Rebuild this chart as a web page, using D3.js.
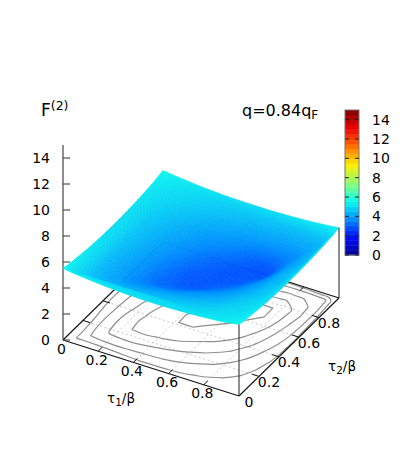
<!DOCTYPE html>
<html>
<head>
<meta charset="utf-8">
<script src="https://cdn.jsdelivr.net/npm/d3@7"></script>
<style>
  body { margin: 0; background: #fff; }
  text { font-family: "DejaVu Sans", sans-serif; fill: #000; }
</style>
</head>
<body>
<div id="chart"></div>
<script>
// tau grid the surface heights were read at (finer near the edges, where it is steep)
var tauNodes = [0, 0.05, 0.1, 0.17, 0.25, 0.33, 0.42, 0.5, 0.58, 0.67, 0.76, 0.85, 0.91, 0.955, 1]

// upper triangle of F(2): row i starts at column i, the rest is mirrored
var zRows = [
  [5.50, 5.41, 5.34, 5.25, 5.16, 5.10, 5.06, 5.05, 5.06, 5.10, 5.16, 5.25, 5.32, 5.41, 5.50],
  [4.99, 4.98, 4.97, 4.96, 4.95, 4.95, 4.96, 4.96, 4.97, 5.03, 5.12, 5.20, 5.28, 5.41],
  [4.60, 4.51, 4.46, 4.49, 4.53, 4.58, 4.64, 4.74, 4.87, 5.00, 5.08, 5.18, 5.34],
  [4.17, 4.11, 4.10, 4.19, 4.27, 4.37, 4.50, 4.65, 4.87, 4.97, 5.08, 5.25],
  [3.75, 3.71, 3.78, 3.89, 4.03, 4.20, 4.40, 4.66, 4.86, 4.98, 5.16],
  [3.30, 3.29, 3.45, 3.69, 3.91, 4.16, 4.48, 4.70, 4.86, 5.10],
  [3.00, 2.99, 3.20, 3.54, 3.89, 4.27, 4.56, 4.75, 5.06],
  [2.92, 2.96, 3.18, 3.65, 4.12, 4.45, 4.66, 5.05],
  [2.88, 2.96, 3.35, 3.97, 4.35, 4.60, 5.05],
  [2.90, 2.99, 3.82, 4.26, 4.54, 5.08],
  [3.00, 3.74, 4.17, 4.50, 5.13],
  [3.77, 4.21, 4.49, 5.20],
  [4.26, 4.55, 5.27],
  [4.61, 5.33],
  [5.40]
]

var contourLevels = [5, 4.6, 4.2, 3.75, 3]
var tauTicks = [0, 0.2, 0.4, 0.6, 0.8]
var zTicks = [0, 2, 4, 6, 8, 10, 12, 14]
var paletteStops = ["#000090", "#000fff", "#0090ff", "#0fffee", "#90ff70", "#ffee00", "#ff7000", "#ee0000", "#7f0000"]

var width = 403, height = 460
var n = tauNodes.length
var zAt = function (i, j) {
  i = Math.max(0, Math.min(n - 1, i))
  j = Math.max(0, Math.min(n - 1, j))
  return i <= j ? zRows[i][j - i] : zRows[j][i - j]
}

// oblique projection of the gnuplot view, one scale per screen component
var origin = [63, 340]
var t1x = d3.scaleLinear().domain([0, 1]).range([0, 176])
var t1y = d3.scaleLinear().domain([0, 1]).range([0, 56])
var t2x = d3.scaleLinear().domain([0, 1]).range([0, 100])
var t2y = d3.scaleLinear().domain([0, 1]).range([0, -98])
var zy = d3.scaleLinear().domain([0, 15]).range([0, -195])

var project = function (t1, t2, z) {
  return [origin[0] + t1x(t1) + t2x(t2), origin[1] + t1y(t1) + t2y(t2) + zy(z || 0)]
}

var color = d3.scaleLinear()
  .domain(paletteStops.map(function (d, i) { return 15 * i / (paletteStops.length - 1) }))
  .range(paletteStops)

var svg = d3.select("#chart").append("svg")
  .attr("width", width)
  .attr("height", height)
  .style("display", "block")

var line = d3.line()
var seg = function (a, b, stroke, w, dash) {
  svg.append("path")
    .attr("d", line([a, b]))
    .attr("fill", "none")
    .attr("stroke", stroke)
    .attr("stroke-width", w)
    .attr("stroke-dasharray", dash || null)
}

// base grid
tauTicks.slice(1).forEach(function (t) {
  seg(project(t, 0), project(t, 1), "#bbb", 0.8, "2,2.5")
  seg(project(0, t), project(1, t), "#bbb", 0.8, "2,2.5")
})

// contours on the base, negated so that each ring is the inside of a level
var flat = []
d3.range(n).forEach(function (j) {
  d3.range(n).forEach(function (i) { flat.push(-zAt(i, j)) })
})
var indexToTau = d3.scaleLinear().domain(d3.range(n)).range(tauNodes)
var contours = d3.contours().size([n, n]).smooth(true)
  .thresholds(contourLevels.map(function (d) { return -d }))(flat)

var ringLine = d3.line().curve(d3.curveCatmullRomClosed.alpha(0.5))
contours.forEach(function (c) {
  c.coordinates.forEach(function (poly) {
    poly.forEach(function (ring) {
      var pts = ring.slice(1).map(function (p) {
        return project(indexToTau(p[0] - 0.5), indexToTau(p[1] - 0.5))
      })
      svg.append("path")
        .attr("d", ringLine(pts))
        .attr("fill", "none")
        .attr("stroke", "#8f8f8f")
        .attr("stroke-width", 1.2)
    })
  })
})

// base border and inward ticks
seg(project(0, 0), project(1, 0), "#111", 1.1)
seg(project(1, 0), project(1, 1), "#111", 1.1)
seg(project(1, 1), project(0, 1), "#111", 1.1)
seg(project(0, 1), project(0, 0), "#111", 1.1)
tauTicks.slice(1).forEach(function (t) {
  seg(project(t, 0), project(t, 0.04), "#111", 1)
  seg(project(t, 1), project(t, 0.96), "#111", 1)
  seg(project(0, t), project(0.04, t), "#111", 1)
  seg(project(1, t), project(0.96, t), "#111", 1)
})

// z axis
seg(project(0, 0), project(0, 0, 15), "#333", 1.1)
zTicks.forEach(function (z) {
  var p = project(0, 0, z)
  seg(p, [p[0] + 7, p[1]], "#444", 1.1)
  svg.append("text")
    .attr("x", p[0] - 13)
    .attr("y", p[1] + 5)
    .attr("text-anchor", "end")
    .attr("font-size", 14)
    .text(z)
})

// surface: shaded mesh over the read grid, painted back to front
var sub = 6
var mesh = []
var cubic = function (a, b, c, d, t) {
  return b + 0.5 * t * (c - a + t * (2 * a - 5 * b + 4 * c - d + t * (3 * b - a - 3 * c + d)))
}
var shade = function (i, j, u, v) {
  var rows = [-1, 0, 1, 2].map(function (dj) {
    return cubic(zAt(i - 1, j + dj), zAt(i, j + dj), zAt(i + 1, j + dj), zAt(i + 2, j + dj), u)
  })
  return cubic(rows[0], rows[1], rows[2], rows[3], v)
}
var vertex = function (i, j, u, v) {
  var t1 = tauNodes[i] + u * (tauNodes[i + 1] - tauNodes[i])
  var t2 = tauNodes[j] + v * (tauNodes[j + 1] - tauNodes[j])
  return project(t1, t2, shade(i, j, u, v))
}
d3.range(n - 1).forEach(function (i) {
  d3.range(sub).forEach(function (si) {
    d3.range(n - 2, -1, -1).forEach(function (j) {
      d3.range(sub - 1, -1, -1).forEach(function (sj) {
        var u0 = si / sub, u1 = (si + 1) / sub, v0 = sj / sub, v1 = (sj + 1) / sub
        mesh.push({
          d: line([vertex(i, j, u0, v0), vertex(i, j, u1, v0), vertex(i, j, u1, v1), vertex(i, j, u0, v1)]) + "Z",
          z: shade(i, j, (u0 + u1) / 2, (v0 + v1) / 2)
        })
      })
    })
  })
})
svg.append("g").selectAll("path")
  .data(mesh)
  .join("path")
  .attr("d", function (d) { return d.d })
  .attr("fill", function (d) { return color(d.z) })
  .attr("stroke", function (d) { return color(d.z) })
  .attr("stroke-width", 0.6)

// front and right verticals
seg(project(1, 0), project(1, 0, zAt(14, 0)), "#333", 1.1)
seg(project(1, 1), project(1, 1, zAt(14, 14)), "#333", 1.1)

// tick labels
tauTicks.forEach(function (t) {
  var a = project(t, 0)
  svg.append("text")
    .attr("x", a[0] - 1.5)
    .attr("y", a[1] + 13.5)
    .attr("text-anchor", "middle")
    .attr("font-size", 14)
    .text(t)
  var b = project(1, t)
  svg.append("text")
    .attr("x", b[0] + 10)
    .attr("y", b[1] + 10.5)
    .attr("text-anchor", "middle")
    .attr("font-size", 14)
    .text(t)
})

// titles
var label = function (x, y, size, anchor, parts) {
  var txt = svg.append("text")
    .attr("x", x)
    .attr("y", y)
    .attr("font-size", size)
    .attr("text-anchor", anchor)
  parts.forEach(function (p) {
    txt.append("tspan")
      .attr("font-size", p[2] || size)
      .attr("dy", p[1] || 0)
      .text(p[0])
  })
}
label(121, 403, 13.5, "middle", [["τ"], ["1", 3, 10.5], ["/β", -3]])
label(342, 371, 13.5, "middle", [["τ"], ["2", 3, 10.5], ["/β", -3]])
label(41, 116, 17, "start", [["F"], ["(2)", -6, 12.5]])
label(242, 116, 16, "start", [["q=0.84q"], ["F", 3, 12]])

// colour box
var cbY = d3.scaleLinear().domain([0, 15]).range([255, 110])
var cbBands = d3.range(30)
svg.append("g").selectAll("rect")
  .data(cbBands)
  .join("rect")
  .attr("x", 345)
  .attr("width", 14)
  .attr("y", function (d) { return cbY((d + 1) / 2) })
  .attr("height", function (d) { return cbY(d / 2) - cbY((d + 1) / 2) + 0.4 })
  .attr("fill", function (d) { return color((d + 0.5) / 2) })
svg.append("rect")
  .attr("x", 345)
  .attr("y", 110)
  .attr("width", 14)
  .attr("height", 145)
  .attr("fill", "none")
  .attr("stroke", "#777")
  .attr("stroke-width", 1)
zTicks.forEach(function (z) {
  var y = cbY(z)
  seg([345, y], [349, y], "#222", 1)
  seg([355, y], [359, y], "#222", 1)
  svg.append("text")
    .attr("x", 372)
    .attr("y", y + 5)
    .attr("font-size", 14)
    .text(z)
})
</script>
</body>
</html>
